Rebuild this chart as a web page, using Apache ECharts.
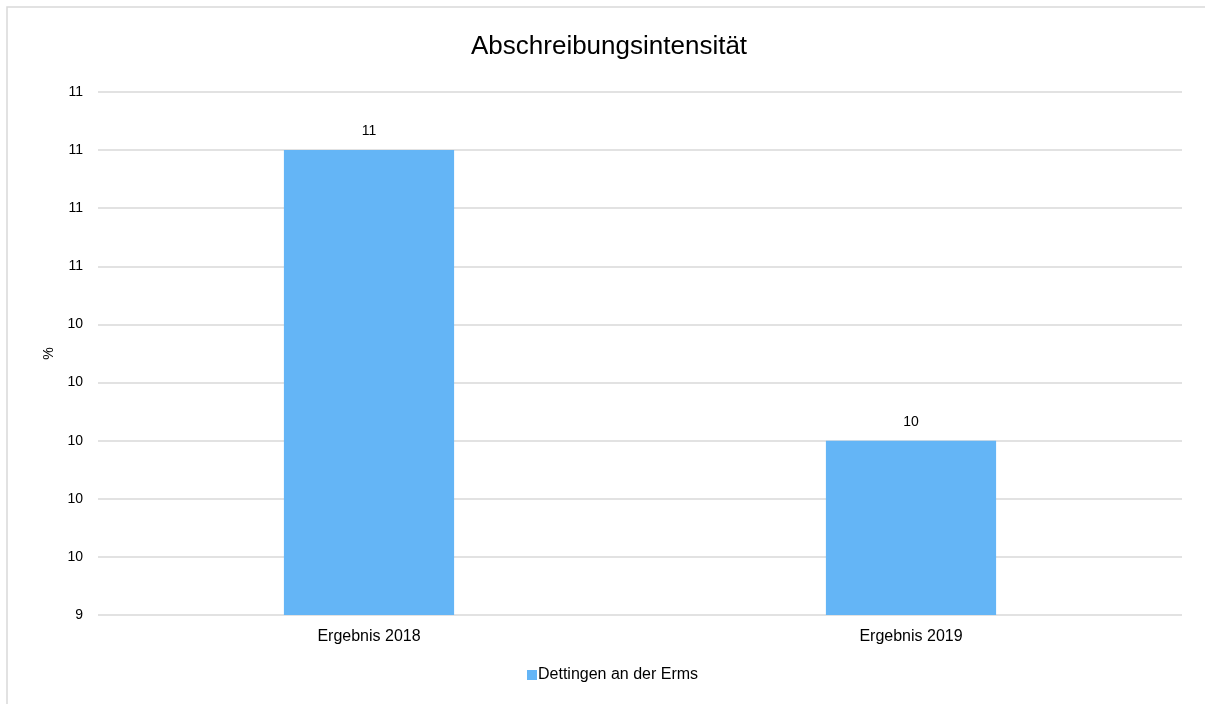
<!DOCTYPE html>
<html>
<head>
<meta charset="utf-8">
<script src="https://cdn.jsdelivr.net/npm/echarts@6/dist/echarts.min.js"></script>
<style>html,body{margin:0;padding:0;background:#fff}#c{width:1205px;height:704px}</style>
</head>
<body>
<div id="c"></div>
<script>
var categories = ['Ergebnis 2018', 'Ergebnis 2019'];
var seriesName = 'Dettingen an der Erms';
var values = [11.0, 10.0];
var yMin = 9.4, yMax = 11.2, yInterval = 0.2;

var chart = echarts.init(document.getElementById('c'));
chart.setOption({
  animation: false,
  backgroundColor: '#fff',
  graphic: [{
    type: 'rect',
    shape: {x: 7, y: 7, width: 1220, height: 720},
    style: {fill: 'none', stroke: '#d9d9d9', lineWidth: 1.5}
  }],
  title: {
    text: 'Abschreibungsintensität', left: 466, top: 29,
    textStyle: {fontFamily: 'Liberation Sans', fontSize: 26, fontWeight: 'normal', color: '#000'}
  },
  legend: {
    bottom: 16, left: 522, itemWidth: 10, itemHeight: 10, itemGap: 10,
    icon: 'rect',
    textStyle: {fontFamily: 'Liberation Sans', fontSize: 16, color: '#000', padding: [0, 0, 0, -4]},
    data: [seriesName]
  },
  grid: {left: 98, right: 23, top: 92, bottom: 89, containLabel: false},
  xAxis: {
    type: 'category', data: categories,
    axisLine: {show: false}, axisTick: {show: false},
    axisLabel: {fontFamily: 'Liberation Sans', fontSize: 16, color: '#000', margin: 14}
  },
  yAxis: {
    type: 'value', min: yMin, max: yMax, interval: yInterval,
    name: '%', nameLocation: 'middle', nameGap: 38, nameRotate: 90,
    nameTextStyle: {fontFamily: 'Liberation Sans', fontSize: 14, color: '#000'},
    axisLine: {show: false}, axisTick: {show: false},
    axisLabel: {fontFamily: 'Liberation Sans', fontSize: 14, color: '#000', margin: 15,
      formatter: function (v) { return String(Math.round(v)); }},
    splitLine: {lineStyle: {color: '#d9d9d9', width: 1.5}}
  },
  series: [{
    name: seriesName, type: 'bar', data: values, barWidth: '31.4%',
    itemStyle: {color: '#64b5f6'},
    label: {show: true, position: 'top', distance: 12, fontFamily: 'Liberation Sans', fontSize: 14, color: '#000',
      formatter: function (p) { return String(Math.round(p.value)); }}
  }]
});
</script>
</body>
</html>
